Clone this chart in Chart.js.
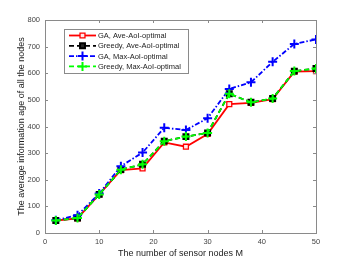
<!DOCTYPE html>
<html>
<head>
<meta charset="utf-8">
<script src="https://cdn.jsdelivr.net/npm/chart.js@4.4.0/dist/chart.umd.min.js"></script>
<style>
  html, body { margin: 0; padding: 0; background: #fff; }
  #wrap { width: 349px; height: 262px; }
</style>
</head>
<body>
<div id="wrap"><canvas id="aoiChart" width="349" height="262"></canvas></div>
<script>
// sensor counts M
const nodes = [2, 6, 10, 14, 18, 22, 26, 30, 34, 38, 42, 46, 50];

// average AoI values
const gaAve = [47, 55, 145, 236, 243, 340, 324, 372, 484, 489, 503, 606, 608];
const greedyAve = [47, 56, 145, 238, 258, 345, 362, 376, 523, 491, 505, 608, 618];
const gaMax = [48, 67, 148, 251, 302, 395, 387, 431, 541, 566, 643, 710, 727];
const greedyMax = [47, 56, 145, 238, 258, 345, 362, 376, 523, 491, 505, 608, 618];

const seriesNames = ['GA, Ave-AoI-optimal', 'Greedy, Ave-AoI-optimal', 'GA, Max-AoI-optimal', 'Greedy, Max-AoI-optimal'];

const xTicks = [0, 10, 20, 30, 40, 50];
const yTicks = [0, 100, 200, 300, 400, 500, 600, 700, 800];

const FONT = '"Liberation Sans", Arial, sans-serif';

function pts(vals) {
  return nodes.map(function (m, i) { return { x: m, y: vals[i] }; });
}

// frame box + inward ticks (matlab style)
const boxPlugin = {
  id: 'boxTicks',
  afterDatasetsDraw: function (chart) {
    const ctx = chart.ctx;
    const a = chart.chartArea;
    const xs = chart.scales.x, ys = chart.scales.y;
    ctx.save();
    ctx.strokeStyle = '#8a8a8a';
    ctx.lineWidth = 1;
    ctx.beginPath();
    xTicks.forEach(function (t) {
      const px = Math.round(xs.getPixelForValue(t)) + 0.5;
      ctx.moveTo(px, a.bottom); ctx.lineTo(px, a.bottom - 3);
      ctx.moveTo(px, a.top); ctx.lineTo(px, a.top + 3);
    });
    yTicks.forEach(function (t) {
      const py = Math.round(ys.getPixelForValue(t)) + 0.5;
      ctx.moveTo(a.left, py); ctx.lineTo(a.left + 3, py);
      ctx.moveTo(a.right, py); ctx.lineTo(a.right - 3, py);
    });
    ctx.stroke();
    ctx.strokeRect(Math.round(a.left) + 0.5, Math.round(a.top) + 0.5,
      Math.round(a.right - a.left), Math.round(a.bottom - a.top));
    ctx.restore();
  },
  afterDraw: function (chart) {
    // legend box, upper left inside the axes
    const ctx = chart.ctx;
    const bx = 64, by = 29, bw = 124, bh = 44;
    ctx.save();
    ctx.fillStyle = '#fff';
    ctx.fillRect(bx, by, bw, bh);
    ctx.strokeStyle = '#8a8a8a';
    ctx.lineWidth = 1;
    ctx.strokeRect(bx + 0.5, by + 0.5, bw, bh);
    ctx.font = '7.5px ' + FONT;
    ctx.textBaseline = 'middle';
    chart.data.datasets.forEach(function (ds, i) {
      const y = by + 6.5 + i * 10.3;
      ctx.save();
      ctx.strokeStyle = ds.borderColor;
      ctx.lineWidth = ds.borderWidth;
      ctx.setLineDash(ds.borderDash || []);
      ctx.beginPath();
      ctx.moveTo(bx + 5, y); ctx.lineTo(bx + 32, y);
      ctx.stroke();
      ctx.restore();
      ctx.save();
      ctx.strokeStyle = ds.pointBorderColor;
      ctx.fillStyle = ds.pointBackgroundColor;
      ctx.lineWidth = ds.pointBorderWidth;
      Chart.helpers.drawPoint(ctx, { pointStyle: ds.pointStyle, radius: ds.pointRadius, rotation: 0, borderWidth: ds.pointBorderWidth }, bx + 18.5, y);
      ctx.restore();
      ctx.fillStyle = '#222';
      ctx.fillText(ds.label, bx + 34, y + 0.5);
    });
    ctx.restore();
  }
};

const ctx = document.getElementById('aoiChart').getContext('2d');
new Chart(ctx, {
  type: 'line',
  data: {
    datasets: [
      {
        label: seriesNames[0], data: pts(gaAve), order: 3,
        borderColor: '#ff0000', borderWidth: 1.8,
        pointStyle: 'rect', pointRadius: 3.5, pointBorderWidth: 1.3,
        pointBorderColor: '#ff0000', pointBackgroundColor: 'rgba(255,235,235,1)'
      },
      {
        label: seriesNames[1], data: pts(greedyAve), order: 2,
        borderColor: '#000000', borderWidth: 1.8, borderDash: [5, 3],
        pointStyle: 'rect', pointRadius: 3.5, pointBorderWidth: 2,
        pointBorderColor: '#000000', pointBackgroundColor: 'rgba(40,40,40,1)'
      },
      {
        label: seriesNames[2], data: pts(gaMax), order: 1,
        borderColor: '#0000ff', borderWidth: 1.8, borderDash: [5, 2, 1.5, 2],
        pointStyle: 'cross', pointRadius: 4.5, pointBorderWidth: 2,
        pointBorderColor: '#0000ff', pointBackgroundColor: '#0000ff'
      },
      {
        label: seriesNames[3], data: pts(greedyMax), order: 0,
        borderColor: '#00ff00', borderWidth: 1.8, borderDash: [5, 3],
        pointStyle: 'cross', pointRadius: 4.5, pointBorderWidth: 2,
        pointBorderColor: '#00ff00', pointBackgroundColor: '#00ff00'
      }
    ]
  },
  options: {
    responsive: false,
    animation: false,
    layout: { padding: { left: 0, right: 33, top: 20, bottom: 0 } },
    plugins: { legend: { display: false }, tooltip: { enabled: false } },
    elements: { line: { tension: 0, fill: false } },
    scales: {
      x: {
        type: 'linear', min: 0, max: 50,
        afterBuildTicks: function (s) { s.ticks = xTicks.map(function (v) { return { value: v }; }); },
        afterFit: function (s) { s.height = 29; },
        grid: { display: false, drawTicks: false },
        border: { display: false },
        ticks: { color: '#444', padding: 4, maxRotation: 0, font: { family: FONT, size: 7.5 } },
        title: { display: true, text: 'The number of sensor nodes M', color: '#222', padding: { top: 0, bottom: 3 }, font: { family: FONT, size: 9 } }
      },
      y: {
        type: 'linear', min: 0, max: 800,
        afterBuildTicks: function (s) { s.ticks = yTicks.map(function (v) { return { value: v }; }); },
        afterFit: function (s) { s.width = 45; },
        grid: { display: false, drawTicks: false },
        border: { display: false },
        ticks: { color: '#444', padding: 5, font: { family: FONT, size: 7.5 } },
        title: { display: true, text: 'The average information age of all the nodes', color: '#222', padding: { top: 16, bottom: 0 }, font: { family: FONT, size: 9 } }
      }
    }
  },
  plugins: [boxPlugin]
});
</script>
</body>
</html>
